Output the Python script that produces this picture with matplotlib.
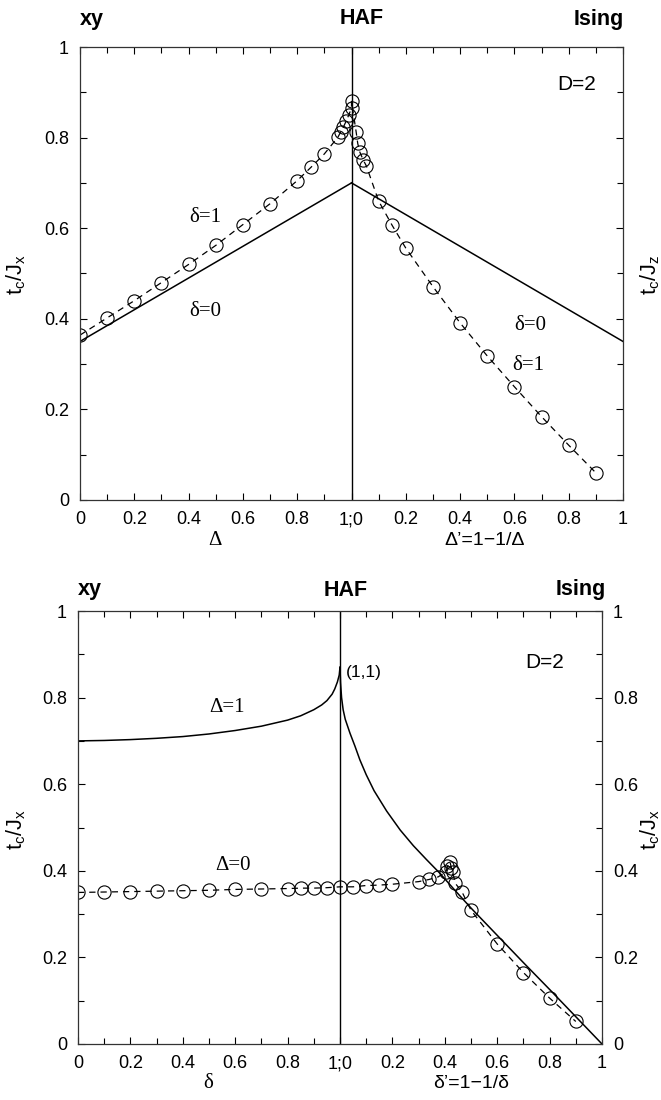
import numpy as np
import matplotlib
matplotlib.use('Agg')
import matplotlib.pyplot as plt
from matplotlib.ticker import MultipleLocator

plt.rcParams['font.family'] = ['Liberation Sans', 'DejaVu Sans']
plt.rcParams['mathtext.fontset'] = 'custom'
plt.rcParams['mathtext.rm'] = 'Liberation Sans'
plt.rcParams['mathtext.it'] = 'Liberation Sans'

# ---- top panel: tc vs Delta (left half) and Delta'=1-1/Delta (right half)
top_d0_left_x = [0.0, 1.0]
top_d0_left_y = [0.35, 0.70]
top_d0_right_x = [0.0, 1.0]
top_d0_right_y = [0.70, 0.35]

top_d1_left_x = [0.0, 0.1, 0.2, 0.3, 0.4, 0.5, 0.6, 0.7, 0.8, 0.85, 0.9,
                 0.95, 0.96, 0.97, 0.98, 0.99, 1.0]
top_d1_left_y = [0.364, 0.402, 0.440, 0.480, 0.520, 0.562, 0.608, 0.654,
                 0.705, 0.734, 0.764, 0.801, 0.812, 0.823, 0.836, 0.850, 0.865]
top_d1_right_x = [0.0, 0.017, 0.023, 0.03, 0.043, 0.055, 0.1, 0.15, 0.2,
                  0.3, 0.4, 0.5, 0.6, 0.7, 0.8, 0.9]
top_d1_right_y = [0.880, 0.813, 0.787, 0.769, 0.751, 0.737, 0.660, 0.606,
                  0.556, 0.471, 0.391, 0.318, 0.250, 0.184, 0.121, 0.060]

# ---- bottom panel: tc vs delta (left half) and delta'=1-1/delta (right half)
bot_D1_left_x = [0.0, 0.1, 0.2, 0.3, 0.4, 0.5, 0.6, 0.7, 0.8, 0.85, 0.9,
                 0.93, 0.95, 0.97, 0.98, 0.99, 0.997, 1.0]
bot_D1_left_y = [0.700, 0.701, 0.703, 0.706, 0.710, 0.716, 0.724, 0.734,
                 0.748, 0.758, 0.772, 0.783, 0.793, 0.808, 0.820, 0.836,
                 0.852, 0.870]
bot_D1_right_x = [0.0, 0.002, 0.006, 0.012, 0.02, 0.038, 0.057, 0.076, 0.1,
                  0.13, 0.178, 0.23, 0.28, 0.33, 0.38, 0.44, 0.5, 0.6, 0.7,
                  0.8, 0.9, 1.0]
bot_D1_right_y = [0.870, 0.835, 0.800, 0.772, 0.750, 0.718, 0.688, 0.656,
                  0.622, 0.585, 0.538, 0.494, 0.458, 0.426, 0.395, 0.354,
                  0.314, 0.251, 0.188, 0.126, 0.063, 0.0]

bot_D0_left_x = [0.0, 0.1, 0.2, 0.3, 0.4, 0.5, 0.6, 0.7, 0.8, 0.85, 0.9,
                 0.95, 1.0]
bot_D0_left_y = [0.350, 0.351, 0.352, 0.353, 0.354, 0.355, 0.357, 0.358,
                 0.359, 0.360, 0.360, 0.361, 0.363]
bot_D0_right_x = [0.05, 0.1, 0.15, 0.2, 0.3, 0.34, 0.375, 0.405, 0.41, 0.42,
                  0.425, 0.43, 0.44, 0.465, 0.5, 0.6, 0.7, 0.8, 0.9]
bot_D0_right_y = [0.363, 0.366, 0.367, 0.369, 0.375, 0.380, 0.386, 0.398,
                  0.410, 0.421, 0.406, 0.398, 0.371, 0.352, 0.309, 0.231,
                  0.165, 0.106, 0.052]

xtick_labels = ['0', '0.2', '0.4', '0.6', '0.8', '1;0', '0.2', '0.4', '0.6', '0.8', '1']
ytick_labels = ['0', '0.2', '0.4', '0.6', '0.8', '1']

W, H = 661, 1100
fig = plt.figure(figsize=(W / 100, H / 100), dpi=100)


def frac(x, y):
    return x / W, 1 - y / H


def setup(ax, right_labels):
    ax.set_xlim(0, 2)
    ax.set_ylim(0, 1)
    ax.set_xticks(np.arange(0, 2.01, 0.2))
    ax.set_xticklabels(xtick_labels)
    ax.set_yticks(np.arange(0, 1.01, 0.2))
    ax.set_yticklabels(ytick_labels)
    ax.xaxis.set_minor_locator(MultipleLocator(0.1))
    ax.yaxis.set_minor_locator(MultipleLocator(0.1))
    ax.tick_params(which='both', direction='in', top=True, right=True,
                   labelright=right_labels, labelsize=13, width=0.8)
    ax.tick_params(which='major', length=5, pad=8)
    ax.tick_params(which='minor', length=4)
    for s in ax.spines.values():
        s.set_linewidth(0.9)
        s.set_color('#333333')
    ax.axvline(1.0, color='k', lw=1.0)


def circ(ax, x, y):
    ax.plot(x, y, color='k', lw=0.9, ls=(0, (5, 4)), marker='o', ms=9.5,
            mfc='none', mec='k', mew=0.8)


# ---------- top panel
ax1 = fig.add_axes([80 / W, 1 - 500 / H, 543 / W, 453 / H])
setup(ax1, False)
ax1.plot(top_d0_left_x, top_d0_left_y, color='k', lw=1.1)
ax1.plot(1 + np.array(top_d0_right_x), top_d0_right_y, color='k', lw=1.1)
circ(ax1, np.concatenate([top_d1_left_x, 1 + np.array(top_d1_right_x)]),
     top_d1_left_y + top_d1_right_y)

serif = ['Liberation Serif', 'DejaVu Serif']
fig.text(*frac(205, 217), 'δ=1', family=serif, fontsize=15, ha='center', va='center')
fig.text(*frac(205, 312), 'δ=0', family=serif, fontsize=15, ha='center', va='center')
fig.text(*frac(530, 325), 'δ=0', family=serif, fontsize=15, ha='center', va='center')
fig.text(*frac(528, 365), 'δ=1', family=serif, fontsize=15, ha='center', va='center')
fig.text(*frac(577, 84), 'D=2', fontsize=15, ha='center', va='center')

for x, s in [(92, 'xy'), (362, 'HAF'), (599, 'Ising')]:
    fig.text(*frac(x, 19), s, fontsize=15.5, fontweight='bold', ha='center', va='center')

fig.text(*frac(215, 540), 'Δ', family=serif, fontsize=15, ha='center', va='center')
fig.text(*frac(485, 540), 'Δ’=1−1/Δ', fontsize=14, ha='center', va='center')
fig.text(*frac(16, 275), r'$\mathrm{t_c/J_x}$', fontsize=15.5, rotation=90, ha='center', va='center')
fig.text(*frac(650, 275), r'$\mathrm{t_c/J_z}$', fontsize=15.5, rotation=90, ha='center', va='center')

# ---------- bottom panel
ax2 = fig.add_axes([78 / W, 1 - 1044 / H, 524 / W, 433 / H])
setup(ax2, True)
ax2.plot(bot_D1_left_x, bot_D1_left_y, color='k', lw=1.1)
ax2.plot(1 + np.array(bot_D1_right_x), bot_D1_right_y, color='k', lw=1.1)
circ(ax2, np.concatenate([bot_D0_left_x, 1 + np.array(bot_D0_right_x)]),
     bot_D0_left_y + bot_D0_right_y)

fig.text(*frac(227, 707), 'Δ=1', family=serif, fontsize=15, ha='center', va='center')
fig.text(*frac(233, 866), 'Δ=0', family=serif, fontsize=15, ha='center', va='center')
fig.text(*frac(545, 662), 'D=2', fontsize=15, ha='center', va='center')
fig.text(*frac(346, 672), '(1,1)', fontsize=12.5, ha='left', va='center')

for x, s in [(90, 'xy'), (346, 'HAF'), (581, 'Ising')]:
    fig.text(*frac(x, 590), s, fontsize=15.5, fontweight='bold', ha='center', va='center')

fig.text(*frac(208, 1084), 'δ', family=serif, fontsize=15, ha='center', va='center')
fig.text(*frac(471, 1083), 'δ’=1−1/δ', fontsize=14, ha='center', va='center')
fig.text(*frac(16, 830), r'$\mathrm{t_c/J_x}$', fontsize=15.5, rotation=90, ha='center', va='center')
fig.text(*frac(650, 830), r'$\mathrm{t_c/J_x}$', fontsize=15.5, rotation=90, ha='center', va='center')

fig.savefig('out.png', dpi=100)
